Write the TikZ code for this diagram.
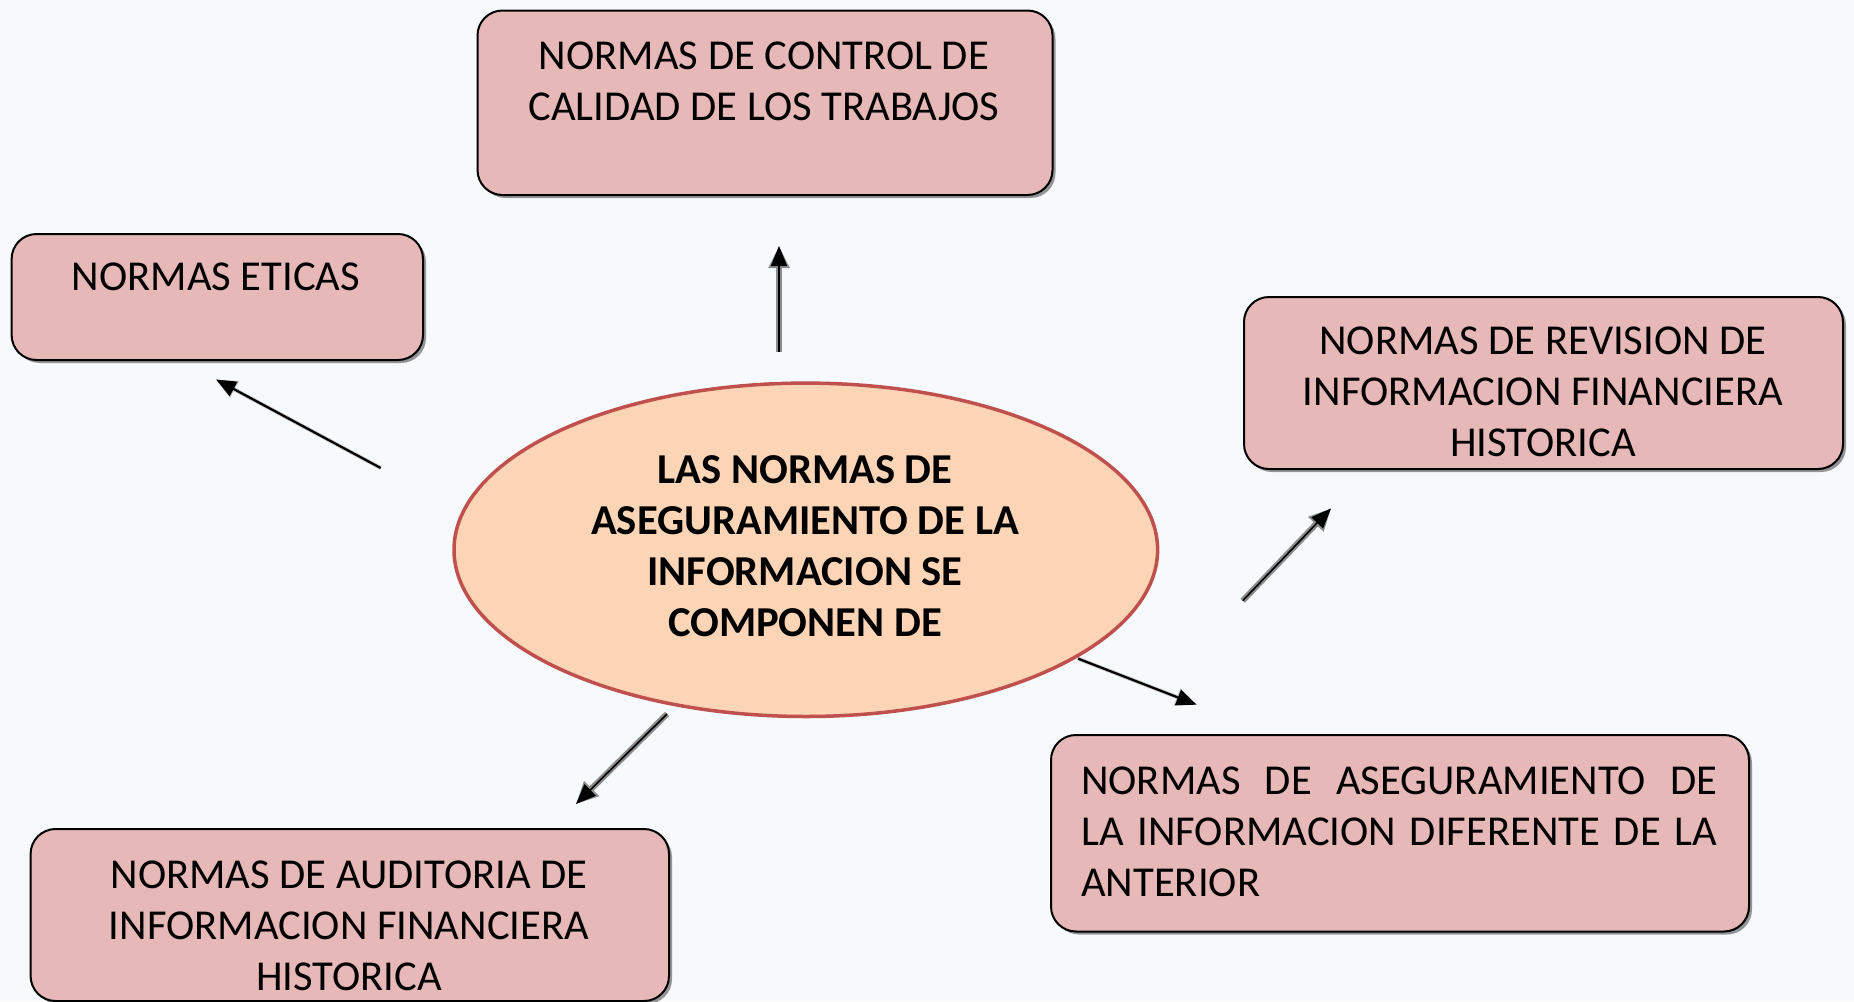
\documentclass[tikz,border=0pt]{standalone}
\usepackage{fontspec}
\setmainfont{Carlito}
\usetikzlibrary{shapes.geometric,arrows.meta,shadows}
\definecolor{bgc}{HTML}{F6FAFC}
\definecolor{boxfill}{HTML}{E6B8B7}
\definecolor{ellfill}{HTML}{FBD5B5}
\definecolor{elldraw}{HTML}{C0504D}
\tikzset{
  box/.style={draw=black, line width=2pt, fill=boxfill, rounded corners=25pt,
    drop shadow={shadow xshift=3pt, shadow yshift=-3pt, fill=black!55, opacity=0.75}},
  txt/.style={font=\fontsize{42.6}{51}\selectfont, inner sep=0pt, align=center},
  halo/.style={line width=1.6pt, -{Triangle[length=20pt,width=16pt]},
    preaction={draw=black!45, line width=6pt, -{Triangle[length=22pt,width=20pt]}}},
  plainarr/.style={line width=2.2pt, -{Triangle[length=20pt,width=16pt]},
    preaction={draw=black!25, line width=3.8pt, -{Triangle[length=21pt,width=18pt]}}}
}
\begin{document}
\begin{tikzpicture}[x=1pt,y={(0pt,-1pt)}]
\useasboundingbox (0,0) rectangle (1854,1001);
\fill[bgc] (0,0) rectangle (1854,1001);

% boxes
\node[box, minimum width=575pt, minimum height=184.5pt, anchor=north west] (topbox) at (476.5,9.5) {};
\node[box, minimum width=411.4pt, minimum height=126pt, anchor=north west] (ethbox) at (10.6,233) {};
\node[box, minimum width=599pt, minimum height=172pt, anchor=north west] (revbox) at (1243,296) {};
\node[box, minimum width=698pt, minimum height=196.5pt, anchor=north west] (asebox) at (1050,734) {};
\node[box, minimum width=638.4pt, minimum height=172pt, anchor=north west] (audbox) at (29.6,828) {};

% texts
\node[txt] (toptxt) at (764,81) {NORMAS DE CONTROL DE\\CALIDAD DE LOS TRABAJOS};
\node[txt] (ethtxt) at (216,276.7) {NORMAS ETICAS};
\node[txt] (revtxt) at (1543,392) {NORMAS DE REVISION DE\\INFORMACION FINANCIERA\\HISTORICA};
\node[txt, align=left, anchor=west] (asetxt) at (1081,831.5) {\makebox[636pt][s]{NORMAS DE ASEGURAMIENTO DE}\\\makebox[636pt][s]{LA INFORMACION DIFERENTE DE LA}\\ANTERIOR};
\node[txt] (audtxt) at (349,925.5) {NORMAS DE AUDITORIA DE\\INFORMACION FINANCIERA\\HISTORICA};

% central ellipse
\node[ellipse, draw=elldraw, line width=3.5pt, fill=ellfill, minimum width=703.6pt, minimum height=333.4pt, inner sep=0pt] (center) at (805.8,549.8) {};
\node[txt, font=\fontsize{42.6}{51}\selectfont\bfseries] (centxt) at (805,545.7) {LAS NORMAS DE\\ASEGURAMIENTO DE LA\\INFORMACION SE\\COMPONEN DE};

% arrow end points
\coordinate (upS) at (779,352);   \coordinate (upE) at (779,246);
\coordinate (ethS) at (380.7,468); \coordinate (ethE) at (216,379.5);
\coordinate (revS) at (1242.7,600.7); \coordinate (revE) at (1331,508.4);
\coordinate (aseS) at (1078,658.6); \coordinate (aseE) at (1196.6,704.7);
\coordinate (audS) at (667,714); \coordinate (audE) at (576,804);

\draw[halo] (upS) -- (upE);
\draw[plainarr] (ethS) -- (ethE);
\draw[halo] (revS) -- (revE);
\draw[plainarr] (aseS) -- (aseE);
\draw[halo] (audS) -- (audE);
\end{tikzpicture}
\end{document}
